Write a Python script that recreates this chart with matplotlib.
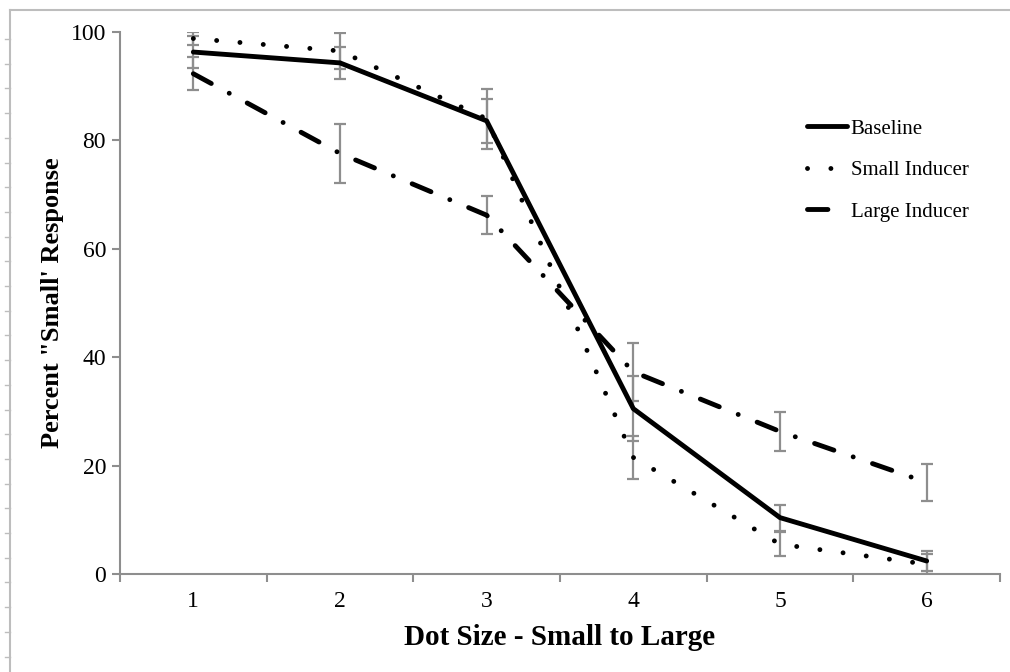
"""Dot size judgement: percent 'small' responses by inducer condition"""

import matplotlib.pyplot as plt
from matplotlib.lines import Line2D
import numpy as np

plt.rcParams['font.family'] = ['Liberation Serif', 'DejaVu Serif']

dot_sizes = [1, 2, 3, 4, 5, 6]
baseline = [96.3, 94.3, 83.6, 30.5, 10.4, 2.4]
baseline_err = [3.0, 3.0, 4.0, 6.0, 2.4, 1.9]
small_inducer = [98.8, 96.5, 84.0, 21.5, 5.5, 1.8]
small_err = [1.2, 3.3, 5.5, 4.0, 2.2, 1.8]
large_inducer = [92.3, 77.6, 66.2, 37.3, 26.3, 16.9]
large_err = [3.0, 5.5, 3.5, 5.3, 3.6, 3.4]

y_ticks = [0, 20, 40, 60, 80, 100]

grey = '#8e8e8e'
dotted = (0, (0.01, 4.8))
dash_dot = (0, (4.2, 4.2, 0.01, 4.2))


def init_fig(width=10.1, height=6.72):
    fig = plt.figure(figsize=(width, height), dpi=100)
    fig.set_facecolor('w')
    ax = fig.add_axes([120 / 1010, 1 - 574 / 672, 880 / 1010, 542 / 672])
    return fig, ax


def draw_frame(fig):
    # outer border of the pasted chart area, with its ruler ticks
    fx = 10 / 1010
    fy = 1 - 10 / 672
    fig.add_artist(Line2D([fx, fx], [0, fy], color='#bdbdbd', lw=1.5))
    fig.add_artist(Line2D([fx, 1], [fy, fy], color='#bdbdbd', lw=1.5))
    for py in np.arange(39, 672, 24.7):
        y = 1 - py / 672
        fig.add_artist(Line2D([5 / 1010, fx], [y, y], color='#bdbdbd', lw=1))


def draw_series(ax, ys, errs, ls, label):
    ax.errorbar(dot_sizes, ys, yerr=errs, fmt='none', ecolor=grey,
                elinewidth=1.6, capsize=4.5, capthick=1.6, zorder=2)
    ax.plot(dot_sizes, ys, color='black', lw=3.5, ls=ls, label=label,
            dash_capstyle='round', solid_capstyle='round', zorder=3)


fig, ax = init_fig()
draw_frame(fig)

draw_series(ax, baseline, baseline_err, '-', 'Baseline')
draw_series(ax, small_inducer, small_err, dotted, 'Small Inducer')
draw_series(ax, large_inducer, large_err, dash_dot, 'Large Inducer')

ax.set_xlim(0.5, 6.5)
ax.set_ylim(0, 100)
ax.set_yticks(y_ticks)
ax.set_xticks(dot_sizes)
ax.set_xticks(np.arange(0.5, 7, 1), minor=True)
ax.tick_params(axis='x', which='major', length=0, labelsize=17, pad=12)
ax.tick_params(axis='x', which='minor', length=6, width=1.5, color=grey, direction='out')
ax.tick_params(axis='y', length=6, width=1.5, color=grey, labelsize=17, pad=4)

for side in ['top', 'right']:
    ax.spines[side].set_visible(False)
for side in ['left', 'bottom']:
    ax.spines[side].set_color(grey)
    ax.spines[side].set_linewidth(1.5)
ax.spines['bottom'].set_zorder(1)

ax.set_xlabel('Dot Size - Small to Large', fontsize=21, fontweight='bold', labelpad=9)
ax.set_ylabel('Percent "Small\' Response', fontsize=19, fontweight='bold', labelpad=5)

ax.legend(loc='upper left', bbox_to_anchor=(807 / 1010, 1 - 119 / 672),
          bbox_transform=fig.transFigure, frameon=False, fontsize=15,
          handlelength=1.9, handletextpad=0.2, labelspacing=1.05,
          borderpad=0, borderaxespad=0)

fig.savefig('out.png', dpi=100, facecolor='w')
